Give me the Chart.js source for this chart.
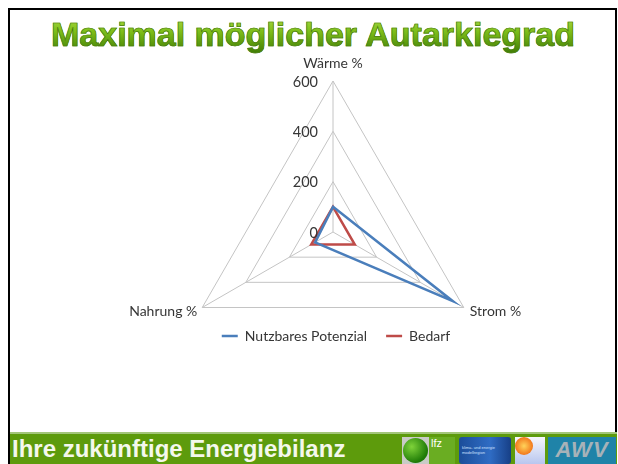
<!DOCTYPE html>
<html>
<head>
<meta charset="utf-8">
<script src="https://cdn.jsdelivr.net/npm/chart.js@4/dist/chart.umd.min.js"></script>
<style>
  html, body { margin:0; padding:0; background:#fff; }
  body { width:618px; height:464px; position:relative; overflow:hidden; font-family:"Liberation Sans", Arial, sans-serif; }
  #frame { position:absolute; left:8px; top:8px; width:605px; height:470px; border:2px solid #000; border-bottom:none; background:#fff; }
  #title { position:absolute; left:0; top:14px; width:626px; text-align:center; font-weight:bold; font-size:34px; line-height:40px;
    background:linear-gradient(180deg,#b2e04a 0%,#7cbd18 45%,#3d7a04 100%); -webkit-background-clip:text; background-clip:text; color:transparent;
    -webkit-text-stroke:0.7px #487c0e; }
  #bar { position:absolute; left:10px; top:432px; width:607px; height:32px; background:#5d9b0c; border-top:2px solid #a3c67a; box-sizing:border-box; }
  #bartext { position:absolute; left:12px; top:437px; font-weight:bold; font-size:24px; line-height:24px; color:#f4f8ec; white-space:nowrap; }
  .logo { position:absolute; top:437px; height:27px; }
  #l1 { left:402px; width:53px; background:#c9cbc6; }
  #l1 .ball { position:absolute; left:1px; top:1px; width:25px; height:25px; border-radius:50%; background:radial-gradient(circle at 35% 35%, #7fd33a, #1d7a06 70%); }
  #l1 .g { position:absolute; left:27px; top:0; width:26px; height:27px; background:#6aad22; color:#fff; font-size:11px; line-height:13px; padding-left:2px; box-sizing:border-box; }
  #l2 { left:459px; width:52px; background:linear-gradient(90deg,#1b4d99,#2f6cc4 60%,#173f86); border-radius:3px; color:#cfe0ff; font-size:4px; line-height:5px; padding:8px 3px; box-sizing:border-box; }
  #l3 { left:515px; width:30px; background:linear-gradient(180deg,#f6f6fb,#b8c6ef); }
  #l3 .sun { position:absolute; left:0px; top:0px; width:18px; height:18px; border-radius:50%; background:radial-gradient(circle,#ffd35a,#f2781c 70%); }
  #l4 { left:548px; width:68px; background:#1f83a8; color:#a7b2b8; font-weight:bold; font-style:italic; font-size:22px; line-height:26px; text-align:center; letter-spacing:1px; }
  canvas { position:absolute; left:0; top:0; }
</style>
</head>
<body>
<div id="frame"></div>
<div id="title">Maximal möglicher Autarkiegrad</div>
<div id="bar"></div>
<div id="bartext">Ihre zukünftige Energiebilanz</div>
<div class="logo" id="l1"><div class="ball"></div><div class="g">lfz</div></div>
<div class="logo" id="l2">klima- und energie modellregion</div>
<div class="logo" id="l3"><div class="sun"></div></div>
<div class="logo" id="l4">AWV</div>
<canvas id="c" width="618" height="464"></canvas>
<script>
const categories = ["Wärme %", "Strom %", "Nahrung %"];
const potenzial = [100, 550, 82];
const bedarf = [100, 100, 100];
const tickValues = [0, 200, 400, 600];
const seriesNames = ["Nutzbares Potenzial", "Bedarf"];

const CX = 333, CY = 232, R = 151;
const labelFont = '14px Lato, "Open Sans", sans-serif';
const tickFont = '14.5px Lato, "Open Sans", sans-serif';

const labelsPlugin = {
  id: 'customLabels',
  afterDatasetsDraw(chart) {
    const s = chart.scales.r;
    const ctx = chart.ctx;
    ctx.save();
    ctx.fillStyle = '#363636';
    ctx.font = tickFont;
    ctx.textAlign = 'right';
    ctx.textBaseline = 'middle';
    tickValues.forEach(v => {
      const d = s.getDistanceFromCenterForValue(v);
      ctx.fillText(String(v), s.xCenter - 15, s.yCenter - d + 1);
    });
    ctx.font = labelFont;
    categories.forEach((lab, i) => {
      const p = s.getPointPosition(i, s.drawingArea);
      if (i === 0) { ctx.textAlign = 'center'; ctx.fillText(lab, p.x, p.y - 18); }
      else if (i === 1) { ctx.textAlign = 'left'; ctx.fillText(lab, p.x + 6, p.y + 4); }
      else { ctx.textAlign = 'right'; ctx.fillText(lab, p.x - 5, p.y + 4); }
    });
    ctx.restore();
  }
};

new Chart(document.getElementById('c'), {
  type: 'radar',
  data: {
    labels: categories,
    datasets: [
      { label: seriesNames[0], data: potenzial, borderColor: '#4a7ebb', backgroundColor: '#4a7ebb', borderWidth: 2.5, fill: false, pointRadius: 0, clip: false },
      { label: seriesNames[1], data: bedarf, borderColor: '#be4b48', backgroundColor: '#be4b48', borderWidth: 2.5, fill: false, pointRadius: 0, clip: false }
    ]
  },
  options: {
    responsive: false,
    animation: false,
    layout: { padding: { left: 54, right: 0, top: 0, bottom: 111 } },
    elements: { line: { tension: 0 } },
    plugins: {
      legend: {
        position: 'bottom',
        labels: { font: { family: 'Lato, "Open Sans", sans-serif', size: 14 }, color: '#363636', usePointStyle: true, pointStyle: 'line', pointStyleWidth: 16, padding: 19 }
      },
      tooltip: { enabled: false }
    },
    scales: {
      r: {
        min: 0, max: 600,
        ticks: { stepSize: 200, display: false },
        pointLabels: { display: false },
        grid: { color: '#c4c4c4', lineWidth: 1, circular: false },
        angleLines: { color: '#c4c4c4', lineWidth: 1 },
        afterFit(scale) { scale.xCenter = CX; scale.yCenter = CY; scale.drawingArea = R; }
      }
    }
  },
  plugins: [labelsPlugin]
});
</script>
</body>
</html>
